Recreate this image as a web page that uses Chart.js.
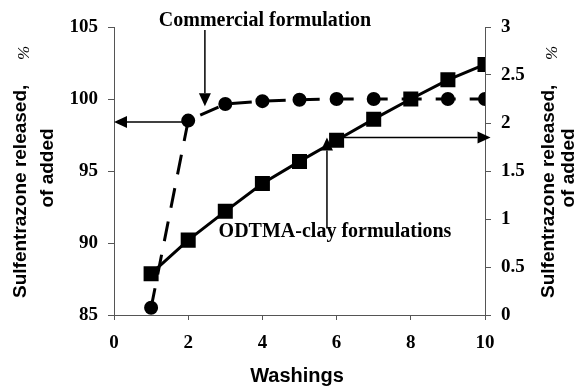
<!DOCTYPE html>
<html>
<head>
<meta charset="utf-8">
<script src="https://cdn.jsdelivr.net/npm/chart.js@4"></script>
<style>
  html, body { margin: 0; padding: 0; background: #fff; }
  #wrap { width: 580px; height: 386px; }
</style>
</head>
<body>
<div id="wrap"><canvas id="chart" width="580" height="386"></canvas></div>
<script>
// washings 1..10
const washings = [1, 2, 3, 4, 5, 6, 7, 8, 9, 10];
// commercial formulation, left axis (% of added)
const commercial = [85.5, 98.5, 99.65, 99.85, 99.95, 100, 100, 100, 100, 100];
// ODTMA-clay formulations, right axis (% of added)
const odtmaClay = [0.43, 0.78, 1.08, 1.37, 1.6, 1.82, 2.04, 2.25, 2.45, 2.61];

const xTicks = [0, 2, 4, 6, 8, 10];
const leftTicks = [85, 90, 95, 100, 105];
const rightTicks = [0, 0.5, 1, 1.5, 2, 2.5, 3];

// annotation arrows in data units: [x1, y1, x2, y2, axis]
const arrows = [
  [2.45, 104.8, 2.45, 99.5, 'y'],   // down to commercial curve
  [2.0, 98.4, 0, 98.4, 'y'],         // to the left axis
  [5.74, 0.9, 5.74, 1.85, 'y2'],    // up to ODTMA curve
  [6.0, 1.85, 10.15, 1.85, 'y2']    // to the right axis
];

const tickFont = { family: "'Liberation Serif', 'Times New Roman', serif", size: 19, weight: 'bold' };
const axisColor = '#555';

const pts = (ys) => washings.map((w, i) => ({ x: w, y: ys[i] }));

const annotate = {
  id: 'annotate',
  afterDraw(chart) {
    const ctx = chart.ctx;
    const sx = chart.scales.x;
    ctx.save();
    ctx.fillStyle = '#000';
    ctx.strokeStyle = '#000';
    ctx.lineWidth = 1.5;
    arrows.forEach(a => {
      const sy = chart.scales[a[4]];
      const x1 = sx.getPixelForValue(a[0]), y1 = sy.getPixelForValue(a[1]);
      const x2 = sx.getPixelForValue(a[2]), y2 = sy.getPixelForValue(a[3]);
      const ang = Math.atan2(y2 - y1, x2 - x1);
      const len = 13, hw = 6;
      ctx.beginPath();
      ctx.moveTo(x1, y1);
      ctx.lineTo(x2 - Math.cos(ang) * len, y2 - Math.sin(ang) * len);
      ctx.stroke();
      ctx.beginPath();
      ctx.moveTo(x2, y2);
      ctx.lineTo(x2 - Math.cos(ang) * len - Math.sin(ang) * hw, y2 - Math.sin(ang) * len + Math.cos(ang) * hw);
      ctx.lineTo(x2 - Math.cos(ang) * len + Math.sin(ang) * hw, y2 - Math.sin(ang) * len - Math.cos(ang) * hw);
      ctx.closePath();
      ctx.fill();
    });

    // labels for the two curves
    ctx.font = "bold 20px 'Liberation Serif', 'Times New Roman', serif";
    ctx.textAlign = 'center';
    ctx.textBaseline = 'middle';
    ctx.fillText('Commercial formulation', 265, 21);
    ctx.fillText('ODTMA-clay formulations', 335, 232);

    // x title
    ctx.font = "bold 20px 'Liberation Sans', Arial, sans-serif";
    ctx.fillText('Washings', 297, 376);

    // y titles (both sides read bottom to top)
    const yTitle = (x1, x2) => {
      ctx.save();
      ctx.translate(x1, 298);
      ctx.rotate(-Math.PI / 2);
      ctx.textAlign = 'left';
      ctx.font = "bold 19px 'Liberation Sans', Arial, sans-serif";
      ctx.fillText('Sulfentrazone released,', 0, 0);
      ctx.font = "italic 17px 'Liberation Serif', serif";
      ctx.fillText('%', 238, 4);
      ctx.restore();
      ctx.save();
      ctx.translate(x2, 168);
      ctx.rotate(-Math.PI / 2);
      ctx.font = "bold 19px 'Liberation Sans', Arial, sans-serif";
      ctx.fillText('of added', 0, 0);
      ctx.restore();
    };
    yTitle(21, 48);
    yTitle(549, 569);
    ctx.restore();
  }
};

new Chart(document.getElementById('chart'), {
  type: 'line',
  data: {
    datasets: [
      {
        label: 'Commercial formulation',
        data: pts(commercial),
        yAxisID: 'y',
        borderColor: '#000',
        backgroundColor: '#000',
        borderWidth: 3,
        borderDash: [20, 14],
        pointStyle: 'circle',
        pointRadius: 5.5,
        tension: 0
      },
      {
        label: 'ODTMA-clay formulations',
        data: pts(odtmaClay),
        yAxisID: 'y2',
        borderColor: '#000',
        backgroundColor: '#000',
        borderWidth: 3,
        pointStyle: 'rect',
        pointRadius: 8.5,
        tension: 0
      }
    ]
  },
  options: {
    responsive: false,
    animation: false,
    layout: { padding: { top: 27, left: 0, right: 0, bottom: 0 } },
    plugins: { legend: { display: false }, tooltip: { enabled: false } },
    scales: {
      x: {
        type: 'linear',
        min: 0, max: 10,
        afterBuildTicks: s => { s.ticks = xTicks.map(v => ({ value: v })); },
        afterFit: s => { s.height = 71; },
        grid: { drawOnChartArea: false, drawTicks: true, tickLength: 5, color: axisColor },
        border: { display: true, color: axisColor, width: 1 },
        ticks: { color: '#000', font: tickFont, padding: 12, maxRotation: 0 }
      },
      y: {
        position: 'left',
        min: 85, max: 105,
        afterBuildTicks: s => { s.ticks = leftTicks.map(v => ({ value: v })); },
        afterFit: s => { s.width = 114; },
        grid: { drawOnChartArea: false, drawTicks: true, tickLength: 6, color: axisColor },
        border: { display: true, color: axisColor, width: 1 },
        ticks: { color: '#000', font: tickFont, padding: 10, callback: v => String(v) }
      },
      y2: {
        position: 'right',
        min: 0, max: 3,
        afterBuildTicks: s => { s.ticks = rightTicks.map(v => ({ value: v })); },
        afterFit: s => { s.width = 95; },
        grid: { drawOnChartArea: false, drawTicks: true, tickLength: 6, color: axisColor },
        border: { display: true, color: axisColor, width: 1 },
        ticks: { color: '#000', font: tickFont, padding: 10, callback: v => String(v) }
      }
    }
  },
  plugins: [annotate]
});
</script>
</body>
</html>
